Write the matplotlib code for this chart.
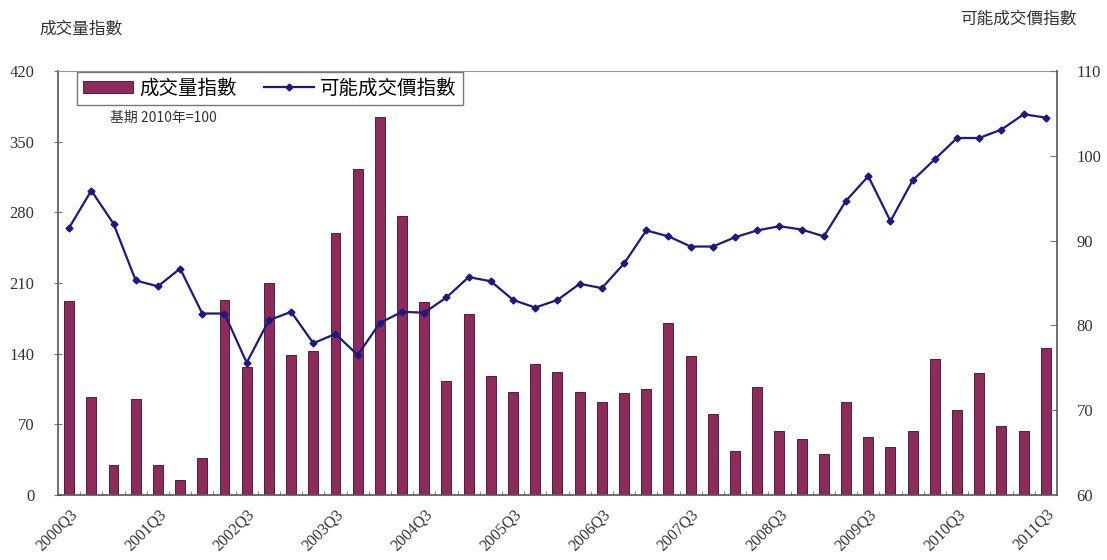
import matplotlib
matplotlib.use("Agg")
import matplotlib.pyplot as plt
from matplotlib.lines import Line2D
from matplotlib.patches import Patch

quarters = []
for y in range(2000, 2012):
    for q in range(1, 5):
        quarters.append(f"{y}Q{q}")
quarters = quarters[2:2 + 45]  # 2000Q3 .. 2011Q3

volume_index = [192, 97, 30, 95, 30, 15, 37, 193, 127, 210, 139, 143, 260, 323, 374, 276,
                191, 113, 179, 118, 102, 130, 122, 102, 92, 101, 105, 170, 138, 80, 44, 107,
                63, 55, 41, 92, 57, 48, 63, 135, 84, 121, 68, 63, 146]
price_index = [91.5, 95.9, 92.0, 85.3, 84.6, 86.7, 81.4, 81.4, 75.6, 80.6, 81.6, 77.9, 79.0,
               76.5, 80.3, 81.6, 81.5, 83.3, 85.7, 85.2, 83.0, 82.1, 83.0, 84.9, 84.4, 87.3,
               91.2, 90.5, 89.3, 89.3, 90.4, 91.2, 91.7, 91.3, 90.5, 94.7, 97.6, 92.3, 97.1,
               99.6, 102.1, 102.1, 103.1, 104.9, 104.5]
left_ticks = [0, 70, 140, 210, 280, 350, 420]
right_ticks = [60, 70, 80, 90, 100, 110]
label_every = 4

cjk = ['Noto Sans CJK TC', 'DejaVu Sans']
serif = ['Liberation Serif', 'DejaVu Serif']
bar_color = '#8E2A5C'
line_color = '#1A1A80'

fig = plt.figure(figsize=(11.07, 5.6), dpi=100)
ax = fig.add_axes([0.0524, 0.1161, 0.9024, 0.7571])
x = list(range(len(quarters)))
ax.bar(x, volume_index, width=0.45, color=bar_color, edgecolor='#3a1025', linewidth=0.6, zorder=2)
ax.set_xlim(-0.5, len(quarters) - 0.5)
ax.set_ylim(0, 420)
ax.set_yticks(left_ticks)
ax.set_yticklabels([str(t) for t in left_ticks], family=serif, fontsize=12, color='#333333')
ax.tick_params(axis='y', direction='inout', length=6, color='#777777', pad=14)
ax.set_xticks([i for i in x if i % label_every == 0])
ax.set_xticklabels([quarters[i] for i in x if i % label_every == 0], rotation=45, ha='right',
                   rotation_mode='anchor', family=serif, fontsize=11.5, color='#333333')
ax.set_xticks([i + 0.5 for i in x[:-1]], minor=True)
ax.tick_params(axis='x', which='major', length=0, pad=8)
ax.tick_params(axis='x', which='minor', direction='in', length=3, color='#558855')
for s in ['left', 'bottom']:
    ax.spines[s].set_color('#555555')
    ax.spines[s].set_linewidth(1.2)
ax.spines['top'].set_color('#999999')
ax.spines['right'].set_visible(False)

ax2 = ax.twinx()
ax2.plot(x, price_index, color=line_color, linewidth=1.6, marker='D', markersize=3.5, zorder=3)
ax2.set_ylim(60, 110)
ax2.set_yticks(right_ticks)
ax2.set_yticklabels([str(t) for t in right_ticks], family=serif, fontsize=12, color='#333333')
ax2.tick_params(axis='y', direction='in', length=5, color='#777777', pad=14)
ax2.spines['right'].set_color('#555555')
ax2.spines['right'].set_linewidth(1.2)
for s in ['left', 'top', 'bottom']:
    ax2.spines[s].set_visible(False)

handles = [Patch(facecolor=bar_color, edgecolor='#3a1025', linewidth=0.6),
           Line2D([], [], color=line_color, marker='D', markersize=3.5, linewidth=1.6)]
leg = ax2.legend(handles, ['成交量指數', '可能成交價指數'], loc='upper left',
                 bbox_to_anchor=(0.019, 0.998), borderaxespad=0, ncol=2, frameon=True,
                 fancybox=False, prop={'family': cjk, 'size': 14}, handlelength=2.6,
                 handleheight=0.6, columnspacing=1.4, borderpad=0.3, handletextpad=0.3)
leg.get_frame().set_edgecolor('#555555')
leg.get_frame().set_linewidth(1.0)

ax.text(0.052, 0.88, '基期 2010年=100', transform=ax.transAxes, family=cjk, fontsize=10,
        color='#333333')
fig.text(0.036, 0.94, '成交量指數', family=cjk, fontsize=12, color='#333333')
fig.text(0.972, 0.958, '可能成交價指數', family=cjk, fontsize=12, color='#333333', ha='right')

fig.savefig('out.png', dpi=100)
